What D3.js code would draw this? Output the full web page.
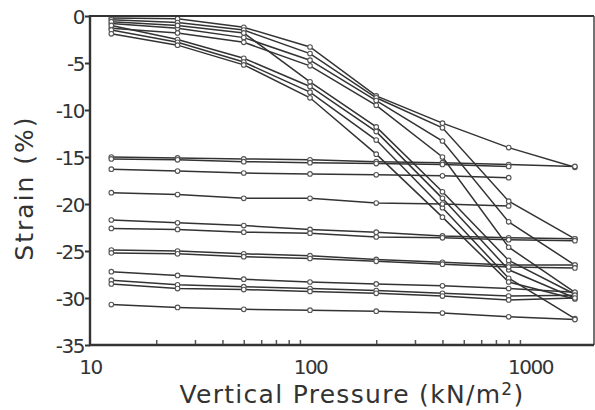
<!DOCTYPE html>
<html>
<head>
<meta charset="utf-8">
<script src="https://cdn.jsdelivr.net/npm/d3@7"></script>
<style>
  body { margin: 0; background: #fff; }
  text { font-family: 'DejaVu Sans', sans-serif; fill: #333; }
</style>
</head>
<body>
<svg id="chart"></svg>
<script>
  // Data
  var pressures = [12.5, 25, 50, 100, 200, 400, 800, 1600]

  // steep curves (top group)
  var steep = [
    [-0.2, -0.3, -1.2, -3.3, -8.5, -11.4, -14.0, -16.1],
    [-0.4, -0.7, -1.5, -4.0, -8.7, -11.9, -19.7, -23.7],
    [-0.8, -1.3, -2.3, -4.7, -9.0, -13.3, -21.9, -26.5],
    [-1.3, -1.8, -2.8, -5.3, -9.5, -15.0, -24.6, -29.4],
    [-0.6, -1.0, -1.8, -7.0, -11.8, -18.7, -26.0, -29.6],
    [-1.0, -2.5, -4.5, -7.5, -12.3, -19.4, -27.0, -30.0],
    [-1.5, -2.8, -4.9, -8.1, -13.2, -20.4, -27.9, -32.2],
    [-1.9, -3.1, -5.2, -8.7, -14.7, -21.4, -28.3, -30.1]
  ]

  // flat curves (lower group)
  var flat = [
    [-15.0, -15.1, -15.2, -15.3, -15.5, -15.6, -15.8, -16.0],
    [-15.2, -15.3, -15.5, -15.6, -15.7, -15.8, -16.0],
    [-16.3, -16.5, -16.7, -16.8, -16.9, -17.0, -17.2],
    [-18.8, -19.0, -19.4, -19.4, -19.9, -20.0, -20.2],
    [-21.7, -22.0, -22.3, -22.7, -23.0, -23.4, -23.6, -23.7],
    [-22.6, -22.7, -23.0, -23.1, -23.5, -23.6, -23.8, -23.9],
    [-24.9, -25.0, -25.3, -25.5, -25.9, -26.2, -26.5, -26.5],
    [-25.2, -25.3, -25.6, -25.8, -26.1, -26.4, -26.7, -26.8],
    [-27.2, -27.6, -28.0, -28.3, -28.5, -28.7, -29.0, -29.4],
    [-28.1, -28.6, -28.8, -29.0, -29.2, -29.5, -29.8, -29.7],
    [-28.5, -29.0, -29.1, -29.3, -29.5, -29.8, -30.2, -30.0],
    [-30.7, -31.0, -31.2, -31.3, -31.4, -31.6, -32.0, -32.3]
  ]

  var yTicks = [0, -5, -10, -15, -20, -25, -30, -35]
  var xLabels = [10, 100, 1000]
  var xMinor = [20, 30, 40, 50, 60, 70, 80, 90, 200, 300, 400, 500, 600, 700, 800, 900]

  var W = 595
  var H = 410
  var margin = { left: 90, right: 1, top: 16, bottom: 65 }
  var LINE = '#333'

  var svg = d3.select('#chart').attr('width', W).attr('height', H)

  var x = d3.scaleLog()
    .domain([10, Math.pow(10, 3 + 64 / 220)])
    .range([margin.left, W - margin.right])
  var y = d3.scaleLinear()
    .domain([0, -35])
    .range([margin.top, H - margin.bottom])

  var line = d3.line()
    .x(function (d) { return x(d[0]) })
    .y(function (d) { return y(d[1]) })

  function toPts(arr) {
    return arr.map(function (v, i) { return [pressures[i], v] })
  }

  var series = steep.map(toPts).concat(flat.map(toPts))

  var plot = svg.append('g')

  // lines
  plot.selectAll('path.curve')
    .data(series)
    .enter()
    .append('path')
    .classed('curve', true)
    .attr('d', line)
    .attr('fill', 'none')
    .attr('stroke', LINE)
    .attr('stroke-width', 1.5)

  // markers
  var pts = []
  series.forEach(function (s) { s.forEach(function (p) { pts.push(p) }) })
  plot.selectAll('circle')
    .data(pts)
    .enter()
    .append('circle')
    .attr('cx', function (d) { return x(d[0]) })
    .attr('cy', function (d) { return y(d[1]) })
    .attr('r', 2.3)
    .attr('fill', '#fff')
    .attr('stroke', '#555')
    .attr('stroke-width', 1.1)

  // frame
  var x0 = margin.left
  var x1 = W - margin.right
  var y0 = margin.top
  var y1 = H - margin.bottom
  svg.append('path')
    .attr('d', 'M' + x0 + ',' + y0 + 'L' + x1 + ',' + y0)
    .attr('stroke', '#333').attr('stroke-width', 2.2)
  svg.append('path')
    .attr('d', 'M' + x1 + ',' + y0 + 'L' + x1 + ',' + y1)
    .attr('stroke', '#444').attr('stroke-width', 1.5)
  svg.append('path')
    .attr('d', 'M' + x0 + ',' + (y0 - 1) + 'L' + x0 + ',' + y1 + 'L' + x1 + ',' + y1)
    .attr('fill', 'none')
    .attr('stroke', '#333').attr('stroke-width', 2.4)

  // y axis
  var yAxis = d3.axisLeft(y)
    .tickValues(yTicks)
    .tickSize(5)
    .tickPadding(1)
    .tickFormat(function (d) { return d })
  var gy = svg.append('g')
    .attr('transform', 'translate(' + x0 + ',0)')
    .call(yAxis)
  gy.select('.domain').remove()
  gy.selectAll('line').attr('stroke', '#333').attr('stroke-width', 2)
  gy.selectAll('text')
    .attr('font-size', 20)
    .attr('dy', '0.36em')
    .style('letter-spacing', '-1.5px')

  // x axis minor ticks (inside)
  var xAxisMinor = d3.axisTop(x)
    .tickValues(xMinor)
    .tickSize(4)
    .tickFormat('')
  var gxm = svg.append('g')
    .attr('transform', 'translate(0,' + (y1 - 1) + ')')
    .call(xAxisMinor)
  gxm.select('.domain').remove()
  gxm.selectAll('line').attr('stroke', '#555').attr('stroke-width', 1.5)

  // x labels
  var xAxis = d3.axisBottom(x)
    .tickValues(xLabels)
    .tickSize(0)
    .tickPadding(15)
    .tickFormat(function (d) { return d })
  var gx = svg.append('g')
    .attr('transform', 'translate(0,' + y1 + ')')
    .call(xAxis)
  gx.select('.domain').remove()
  gx.selectAll('text')
    .attr('font-size', 20)
    .style('letter-spacing', '-1.5px')

  // axis titles
  svg.append('text')
    .attr('transform', 'translate(33,188) rotate(-90)')
    .attr('text-anchor', 'middle')
    .attr('font-size', 25)
    .style('letter-spacing', '2px')
    .text('Strain (%)')

  var xt = svg.append('text')
    .attr('x', 352)
    .attr('y', 403)
    .attr('text-anchor', 'middle')
    .attr('font-size', 25)
    .style('letter-spacing', '1.3px')
  xt.append('tspan').text('Vertical Pressure (kN/m')
  xt.append('tspan').attr('font-size', 17).attr('dy', -8).text('2')
  xt.append('tspan').attr('dy', 8).text(')')
</script>
</body>
</html>
